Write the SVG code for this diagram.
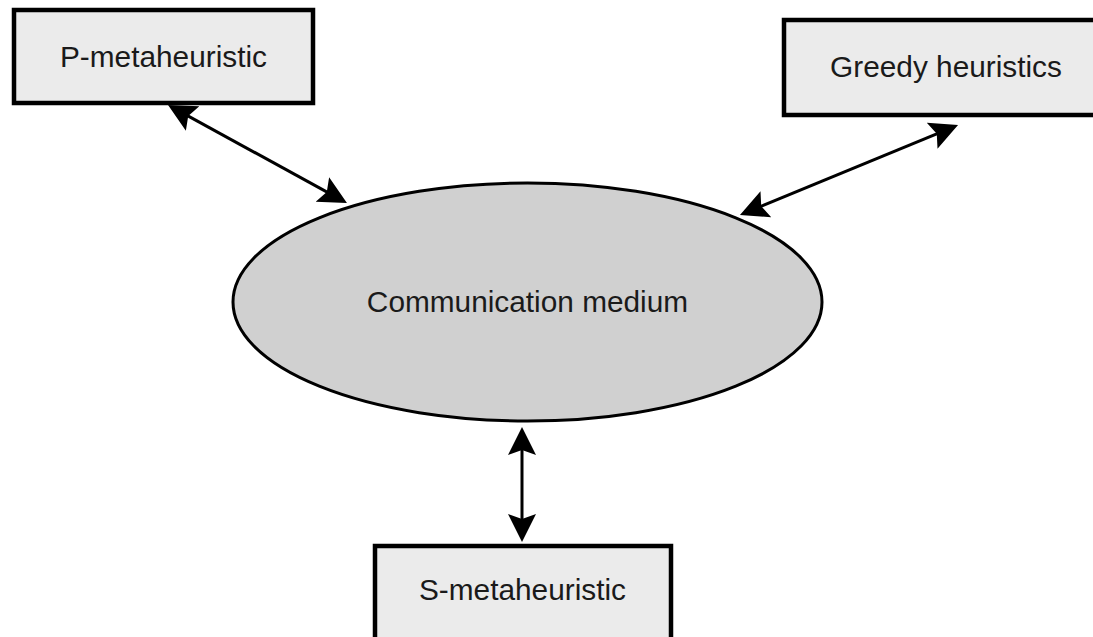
<svg xmlns="http://www.w3.org/2000/svg" width="1093" height="637" viewBox="0 0 1093 637">
  <style>
    .box { fill: #ebebeb; stroke: #000; stroke-width: 4.5; }
    .medium { fill: #d0d0d0; stroke: #000; stroke-width: 3; }
    .label { font-family: "Liberation Sans", Arial, Helvetica, sans-serif; font-size: 29.8px; fill: #1a1a1a; text-anchor: middle; }
    .link { fill: none; stroke: #000; stroke-width: 3; marker-start: url(#head); marker-end: url(#head); }
  </style>
  <defs>
    <marker id="head" markerUnits="userSpaceOnUse" markerWidth="30" markerHeight="30" viewBox="0 0 30 30" refX="22" refY="15" orient="auto-start-reverse">
      <path d="M28,15 L0,1 L5,15 L0,29 Z" fill="#000"/>
    </marker>
  </defs>
  <rect width="1093" height="637" fill="#fff"/>

  <g id="medium">
    <ellipse class="medium" cx="527.5" cy="302" rx="294.5" ry="119"/>
    <text class="label" x="527.5" y="312">Communication medium</text>
  </g>

  <g id="p-metaheuristic">
    <rect class="box" x="14" y="10" width="299" height="93"/>
    <text class="label" x="163.5" y="67">P-metaheuristic</text>
  </g>

  <g id="greedy-heuristics">
    <rect class="box" x="784" y="20" width="324" height="95"/>
    <text class="label" x="946" y="77">Greedy heuristics</text>
  </g>

  <g id="s-metaheuristic">
    <rect class="box" x="375" y="546" width="296" height="110"/>
    <text class="label" x="522.5" y="600">S-metaheuristic</text>
  </g>

  <g id="connectors">
    <line class="link" x1="173.3" y1="107.9" x2="341.7" y2="200.1"/>
    <line class="link" x1="745.5" y1="212.7" x2="952.5" y2="127.3"/>
    <line class="link" x1="522" y1="433" x2="522" y2="536"/>
  </g>
</svg>
